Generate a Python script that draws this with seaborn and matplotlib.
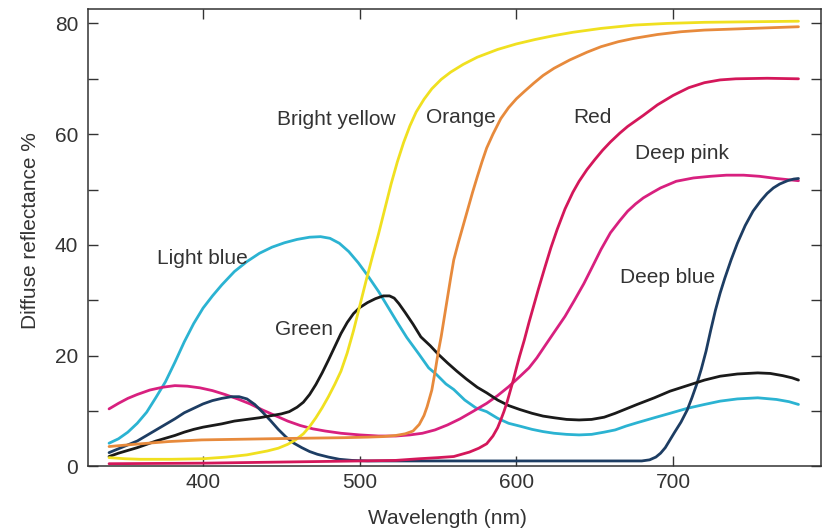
import matplotlib
matplotlib.use("Agg")
import matplotlib.pyplot as plt
import seaborn as sns
import pandas as pd

# ---------------- data ----------------
light_blue_x = [340, 346, 352, 358, 364, 370, 376, 382, 388, 394, 400, 406, 412, 420, 428, 436,
                444, 452, 460, 468, 475, 481, 487, 493, 499, 505, 512, 518, 524, 530, 538, 544,
                549, 555, 560, 567, 574, 581, 588, 595, 602, 610, 617, 624, 632, 640, 648, 656,
                663, 670, 677, 688, 698, 709, 720, 730, 741, 754, 766, 774, 780]
light_blue_y = [4.2, 5.0, 6.2, 7.8, 9.8, 12.5, 15.3, 18.8, 22.5, 25.8, 28.6, 30.8, 32.8, 35.2, 37.0, 38.5,
                39.6, 40.4, 41.0, 41.4, 41.5, 41.2, 40.3, 38.8, 36.8, 34.5, 31.6, 28.8, 26.0, 23.3, 20.2, 17.8,
                16.6, 14.9, 13.9, 12.0, 10.6, 9.9, 8.7, 7.8, 7.3, 6.7, 6.3, 6.0, 5.8, 5.7, 5.8, 6.2,
                6.6, 7.3, 7.9, 8.8, 9.6, 10.5, 11.2, 11.8, 12.2, 12.4, 12.1, 11.7, 11.2]

deep_pink_x = [340, 346, 352, 358, 366, 374, 382, 390, 398, 406, 414, 422, 430, 438, 446, 454,
               462, 470, 478, 488, 500, 512, 523, 532, 540, 548, 556, 564, 572, 581, 588, 595,
               602, 608, 613, 618, 624, 631, 637, 643, 648, 654, 660, 666, 671, 676, 681, 687,
               692, 702, 713, 724, 734, 745, 755, 766, 773, 780]
deep_pink_y = [10.4, 11.4, 12.3, 13.0, 13.8, 14.3, 14.6, 14.5, 14.2, 13.7, 13.0, 12.2, 11.3, 10.2, 9.2, 8.2,
               7.4, 6.8, 6.4, 6.0, 5.7, 5.5, 5.5, 5.7, 6.0, 6.6, 7.5, 8.6, 9.9, 11.4, 12.8, 14.4,
               16.2, 17.8, 19.6, 21.7, 24.2, 27.1, 30.0, 33.0, 35.8, 39.2, 42.2, 44.4, 46.1, 47.4, 48.5, 49.5,
               50.3, 51.5, 52.1, 52.4, 52.6, 52.6, 52.4, 52.0, 51.8, 51.6]

deep_blue_x = [340, 346, 352, 358, 364, 370, 376, 382, 388, 394, 400, 406, 412, 418, 423, 428,
               433, 438, 443, 448, 453, 458, 463, 468, 473, 480, 487, 495, 505, 600, 680, 685,
               689, 692, 695, 698, 701, 705, 709, 712, 715, 718, 721, 724, 727, 730, 733, 737,
               741, 746, 751, 756, 760, 764, 768, 773, 777, 780]
deep_blue_y = [2.5, 3.2, 3.9, 4.6, 5.6, 6.6, 7.6, 8.6, 9.7, 10.5, 11.3, 11.9, 12.3, 12.6, 12.6, 12.2,
               11.2, 9.8, 8.3, 6.7, 5.3, 4.2, 3.4, 2.7, 2.2, 1.7, 1.3, 1.1, 1.0, 1.0, 1.0, 1.2,
               1.7, 2.4, 3.4, 4.8, 6.2, 8.0, 10.2, 12.4, 14.8, 17.6, 20.8, 24.6, 28.2, 31.3, 34.0, 37.3,
               40.3, 43.5, 46.1, 48.0, 49.3, 50.3, 51.0, 51.6, 51.9, 52.0]

green_x = [340, 346, 352, 358, 364, 370, 376, 382, 388, 394, 400, 406, 412, 420, 428, 436,
           444, 450, 455, 460, 464, 468, 472, 476, 480, 484, 488, 492, 496, 500, 505, 510,
           515, 519, 522, 525, 529, 534, 539, 545, 550, 556, 562, 568, 575, 581, 588, 595,
           602, 610, 617, 624, 632, 640, 648, 656, 663, 670, 677, 688, 698, 709, 720, 730,
           741, 754, 762, 770, 776, 780]
green_y = [1.8, 2.4, 2.9, 3.4, 4.0, 4.6, 5.1, 5.6, 6.2, 6.7, 7.1, 7.4, 7.7, 8.2, 8.5, 8.8,
           9.2, 9.5, 9.9, 10.7, 11.6, 13.0, 14.8, 16.9, 19.2, 21.6, 24.0, 26.0, 27.6, 28.7, 29.6, 30.3,
           30.8, 30.8, 30.4, 29.4, 27.8, 25.7, 23.4, 21.8, 20.3, 18.7, 17.2, 15.8, 14.3, 13.3, 12.0, 11.0,
           10.3, 9.6, 9.1, 8.8, 8.5, 8.4, 8.5, 8.9, 9.6, 10.4, 11.2, 12.4, 13.6, 14.6, 15.6, 16.3,
           16.7, 16.9, 16.8, 16.4, 16.0, 15.6]

yellow_x = [340, 350, 360, 380, 400, 415, 428, 441, 448, 454, 459, 464, 468, 472, 476, 480,
            484, 488, 492, 496, 500, 504, 508, 512, 516, 520, 524, 528, 532, 536, 541, 546,
            552, 558, 566, 575, 588, 600, 612, 624, 636, 654, 675, 696, 720, 750, 780]
yellow_y = [1.6, 1.4, 1.3, 1.3, 1.4, 1.7, 2.1, 2.8, 3.3, 4.0, 4.8, 5.9, 7.2, 8.8, 10.6, 12.6,
            14.8, 17.2, 20.5, 24.5, 29.0, 33.5, 37.8, 42.0, 46.5, 51.0, 55.0, 58.5, 61.5, 64.0, 66.3, 68.2,
            69.9, 71.2, 72.6, 73.9, 75.3, 76.3, 77.1, 77.8, 78.4, 79.1, 79.7, 80.0, 80.2, 80.3, 80.4]

orange_x = [340, 356, 378, 399, 420, 441, 463, 490, 505, 515, 523, 529, 534, 538, 541, 543,
            546, 548, 550, 552, 554, 556, 558, 560, 563, 566, 569, 572, 575, 578, 581, 585,
            590, 595, 600, 605, 611, 617, 624, 634, 645, 654, 665, 675, 690, 705, 720, 750, 780]
orange_y = [3.6, 4.0, 4.5, 4.8, 4.9, 5.0, 5.1, 5.2, 5.3, 5.4, 5.6, 5.9, 6.4, 7.6, 9.2, 10.8,
            13.8, 17.0, 20.5, 23.5, 27.0, 30.5, 34.0, 37.3, 40.5, 43.5, 46.5, 49.5, 52.3, 55.0, 57.5, 60.0,
            62.8, 64.8, 66.4, 67.7, 69.2, 70.6, 71.9, 73.4, 74.8, 75.8, 76.7, 77.3, 78.0, 78.5, 78.8, 79.1, 79.4]

red_x = [340, 400, 450, 500, 523, 538, 550, 560, 570, 576, 581, 585, 588, 590, 592, 594,
         596, 598, 600, 602, 605, 608, 611, 614, 618, 622, 626, 631, 636, 640, 645, 650,
         655, 660, 666, 671, 681, 690, 700, 710, 720, 730, 740, 760, 780]
red_y = [0.5, 0.6, 0.8, 1.0, 1.1, 1.4, 1.6, 1.8, 2.6, 3.3, 4.1, 5.5, 7.0, 8.4, 9.9, 11.6,
         13.6, 15.6, 17.8, 19.9, 22.8, 26.0, 29.0, 32.0, 35.8, 39.5, 42.8, 46.5, 49.5, 51.5, 53.6, 55.4,
         57.1, 58.6, 60.2, 61.4, 63.4, 65.3, 67.0, 68.4, 69.3, 69.8, 70.0, 70.1, 70.0]

series_names = ["Light blue", "Deep pink", "Deep blue", "Green", "Bright yellow", "Orange", "Red"]
series_x = [light_blue_x, deep_pink_x, deep_blue_x, green_x, yellow_x, orange_x, red_x]
series_y = [light_blue_y, deep_pink_y, deep_blue_y, green_y, yellow_y, orange_y, red_y]
series_colors = ["#2bb3d2", "#d8207f", "#1d3d63", "#1a1a1a", "#f0e020", "#e78a3c", "#d4175a"]

label_texts = ["Bright yellow", "Light blue", "Green", "Orange", "Red", "Deep pink", "Deep blue"]
label_x = [447.2, 370.6, 446.0, 542.3, 636.0, 675.7, 666.0]
label_y = [62.7, 37.6, 24.7, 63.1, 63.1, 56.5, 34.2]

x_ticks = [400, 500, 600, 700]
y_ticks = [0, 10, 20, 30, 40, 50, 60, 70, 80]
y_ticklabels = ["0", "", "20", "", "40", "", "60", "", "80"]

# ---------------- build table ----------------
frames = []
for name, xs, ys in zip(series_names, series_x, series_y):
    frames.append(pd.DataFrame({"wavelength": xs, "reflectance": ys, "series": name}))
df = pd.concat(frames, ignore_index=True)
palette = dict(zip(series_names, series_colors))

# ---------------- style ----------------
sns.set_style("ticks")
plt.rcParams["font.family"] = ["Liberation Sans", "DejaVu Sans"]

fig = plt.figure(figsize=(8.23, 5.31), dpi=100)
ax = fig.add_axes([0.107, 0.1215, 0.8906, 0.8615])

sns.lineplot(data=df, x="wavelength", y="reflectance", hue="series",
             hue_order=series_names, palette=palette, estimator=None,
             sort=False, linewidth=2.0, legend=False, ax=ax,
             solid_joinstyle="round", solid_capstyle="round")

ax.set_xlim(326.6, 794.4)
ax.set_ylim(0, 82.6)
ax.set_xticks(x_ticks)
ax.set_xticklabels([str(t) for t in x_ticks])
ax.set_yticks(y_ticks)
ax.set_yticklabels(y_ticklabels)

text_color = "#333333"
for side in ["left", "right", "top", "bottom"]:
    ax.spines[side].set_visible(True)
    ax.spines[side].set_color("#333333")
    ax.spines[side].set_linewidth(1.1)

ax.tick_params(axis="both", which="major", direction="in", length=7, width=1.0,
               color="#333333", labelsize=15, labelcolor=text_color,
               top=True, right=True, labeltop=False, labelright=False)
ax.tick_params(axis="x", pad=5)
ax.tick_params(axis="y", pad=7)

ax.set_xlabel("Wavelength (nm)", fontsize=15, color=text_color)
ax.set_ylabel("Diffuse reflectance %", fontsize=15, color=text_color)
ax.xaxis.set_label_coords(0.49, -0.093)
ax.yaxis.set_label_coords(-0.066, 0.516)

for t, x, y in zip(label_texts, label_x, label_y):
    ax.text(x, y, t, fontsize=15, color=text_color, ha="left", va="center")

fig.savefig("out.png", dpi=100)
